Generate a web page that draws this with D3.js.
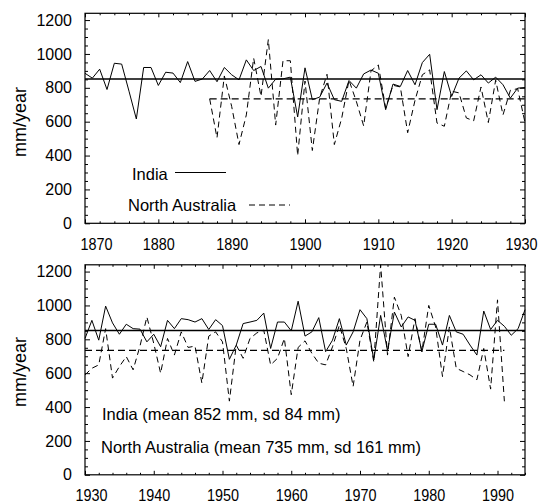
<!DOCTYPE html>
<html><head><meta charset="utf-8">
<script src="https://cdn.jsdelivr.net/npm/d3@7"></script>
<style>
body{margin:0;background:#fff}
svg{display:block}
text{font-family:"Liberation Sans", Arial, Helvetica, sans-serif;fill:#000}
</style>
</head><body>
<svg id="c" width="542" height="503"></svg>
<script>
// ---------- DATA ----------
const indiaMean = 852;
const ausMean = 735;

const indiaTopStart = 1870;
const indiaTop = [886,857,910,790,945,940,780,616,920,920,
  814,892,887,831,955,838,852,902,836,920,
  877,847,965,902,926,798,851,853,863,628,
  918,730,745,828,730,720,843,798,882,905,
  886,671,822,808,902,818,949,998,671,896,
  749,857,900,847,877,828,863,818,739,798,802];

const ausTopStart = 1887;
const ausTop = [735,505,870,690,465,640,975,750,1085,580,
  960,960,400,840,430,740,880,465,620,845,
  720,575,900,935,680,815,805,535,726,877,
  906,592,573,780,770,622,605,805,595,845,
  640,785,795,595];

const indiaBotStart = 1930;
const indiaBot = [805,912,795,996,897,830,889,863,860,785,
  830,756,912,863,922,916,902,922,858,916,
  881,682,766,893,902,912,955,746,902,902,
  850,1025,819,844,928,727,795,922,766,844,
  975,922,678,941,733,961,873,932,912,727,
  889,889,766,941,844,830,766,707,967,858,
  912,877,824,863,975];

const ausBotStart = 1930;
const ausBot = [590,629,649,863,571,639,698,620,760,932,
  776,600,805,707,844,752,760,542,819,844,
  785,435,766,688,805,838,854,649,688,805,
  473,752,791,717,659,649,756,883,746,522,
  795,902,668,1240,707,1049,941,698,922,727,
  1000,873,580,873,629,610,590,561,746,506,
  1033,434];

const xTicksTop = [1870,1880,1890,1900,1910,1920,1930];
const xTicksBot = [1930,1940,1950,1960,1970,1980,1990];
const yTicks = [0,200,400,600,800,1000,1200];
const yLabel = "mm/year";
const legendTop = ["India", "North Australia"];
const legendBot = ["India (mean 852 mm, sd 84 mm)", "North Australia (mean 735 mm, sd 161 mm)"];

// ---------- DRAW ----------
const svg = d3.select("#c");
svg.append("rect").attr("width",542).attr("height",503).attr("fill","#fff");

function series(start, vals){ return vals.map((v,i)=>({year:start+i, v})); }

function panel(cfg){
  const x = d3.scaleLinear().domain(cfg.xDomain).range([85,525]);
  const y = d3.scaleLinear().domain([0,1240]).range([cfg.yB, cfg.yT]);
  const g = svg.append("g");

  const yMinor = d3.range(0,1241,50).filter(v=>v%200!==0);
  const xMinor = d3.range(cfg.xDomain[0], cfg.xDomain[1]+0.01, 2).filter(v=>v%10!==0);

  const la = g.append("g").attr("transform",`translate(85,0)`)
    .call(d3.axisLeft(y).tickValues(yTicks).tickSize(-5).tickPadding(13).tickFormat(d3.format("d")));
  la.select(".domain").remove();
  la.selectAll("text").attr("font-size","16px");
  g.append("g").attr("transform",`translate(85,0)`)
    .call(d3.axisLeft(y).tickValues(yMinor).tickSize(-3).tickFormat("")).select(".domain").remove();
  g.append("g").attr("transform",`translate(525,0)`)
    .call(d3.axisRight(y).tickValues(yTicks).tickSize(-5).tickFormat("")).select(".domain").remove();
  g.append("g").attr("transform",`translate(525,0)`)
    .call(d3.axisRight(y).tickValues(yMinor).tickSize(-3).tickFormat("")).select(".domain").remove();
  const ba = g.append("g").attr("transform",`translate(0,${cfg.yB})`)
    .call(d3.axisBottom(x).tickValues(cfg.xTicks).tickSize(-4).tickPadding(15).tickFormat(d3.format("d")));
  ba.select(".domain").remove();
  ba.selectAll("text").attr("font-size","16px").attr("textLength",32).attr("lengthAdjust","spacingAndGlyphs");
  const n = cfg.xTicks.length;
  ba.selectAll(".tick text").filter((d,i)=>i===0).attr("dx", cfg.firstDx);
  ba.selectAll(".tick text").filter((d,i)=>i===n-1).attr("dx", cfg.lastDx);
  g.append("g").attr("transform",`translate(0,${cfg.yB})`)
    .call(d3.axisBottom(x).tickValues(xMinor).tickSize(-2).tickFormat("")).select(".domain").remove();
  g.append("g").attr("transform",`translate(0,${cfg.yT})`)
    .call(d3.axisTop(x).tickValues(cfg.xTicks).tickSize(-4).tickFormat("")).select(".domain").remove();
  g.append("g").attr("transform",`translate(0,${cfg.yT})`)
    .call(d3.axisTop(x).tickValues(xMinor).tickSize(-2).tickFormat("")).select(".domain").remove();

  g.selectAll(".tick line").attr("stroke","#000");

  g.append("rect").attr("x",85).attr("y",cfg.yT).attr("width",440).attr("height",cfg.yB-cfg.yT)
    .attr("fill","none").attr("stroke","#000").attr("stroke-width",1.2);

  const line = d3.line().x(d=>x(d.year)).y(d=>y(d.v));
  g.append("line").attr("x1",x(cfg.xDomain[0])).attr("x2",x(cfg.xDomain[1]))
    .attr("y1",y(indiaMean)).attr("y2",y(indiaMean)).attr("stroke","#000").attr("stroke-width",1.3);
  g.append("line").attr("x1",x(cfg.ausMeanRange[0])).attr("x2",x(cfg.ausMeanRange[1]))
    .attr("y1",y(ausMean)).attr("y2",y(ausMean)).attr("stroke","#000").attr("stroke-width",1.3)
    .attr("stroke-dasharray","7,4");
  g.append("path").datum(cfg.aus).attr("d",line).attr("fill","none").attr("stroke","#000")
    .attr("stroke-width",1).attr("stroke-dasharray","6,4");
  g.append("path").datum(cfg.india).attr("d",line).attr("fill","none").attr("stroke","#000")
    .attr("stroke-width",1);

  g.append("text").attr("transform",`translate(26,${cfg.yLabelY}) rotate(-90)`)
    .attr("text-anchor","middle").attr("font-size","18px").text(yLabel);
  return {x,y,g};
}

const aTop = series(ausTopStart, ausTop);
const aBot = series(ausBotStart, ausBot);

const panelTop = panel({xDomain:[1870,1930], yT:13.3, yB:223.3, xTicks:xTicksTop, firstDx:11, lastDx:-4,
  india:series(indiaTopStart, indiaTop), aus:aTop,
  ausMeanRange:[aTop[0].year, aTop[aTop.length-1].year], yLabelY:122});
const panelBot = panel({xDomain:[1930,1994], yT:264.8, yB:474.8, xTicks:xTicksBot, firstDx:6, lastDx:0,
  india:series(indiaBotStart, indiaBot), aus:aBot,
  ausMeanRange:[aBot[0].year, aBot[aBot.length-1].year], yLabelY:372});

svg.append("text").attr("x",132).attr("y",179.5).attr("font-size","16.5px").text(legendTop[0]);
svg.append("line").attr("x1",175).attr("x2",226).attr("y1",172.5).attr("y2",172.5).attr("stroke","#000");
svg.append("text").attr("x",128).attr("y",210.5).attr("font-size","16.5px").text(legendTop[1]);
svg.append("line").attr("x1",249).attr("x2",290).attr("y1",205).attr("y2",205).attr("stroke","#000")
  .attr("stroke-dasharray","6,4");

svg.append("text").attr("x",102).attr("y",420).attr("font-size","16.5px").text(legendBot[0]);
svg.append("text").attr("x",101).attr("y",453).attr("font-size","16.5px").text(legendBot[1]);
</script>
</body></html>
